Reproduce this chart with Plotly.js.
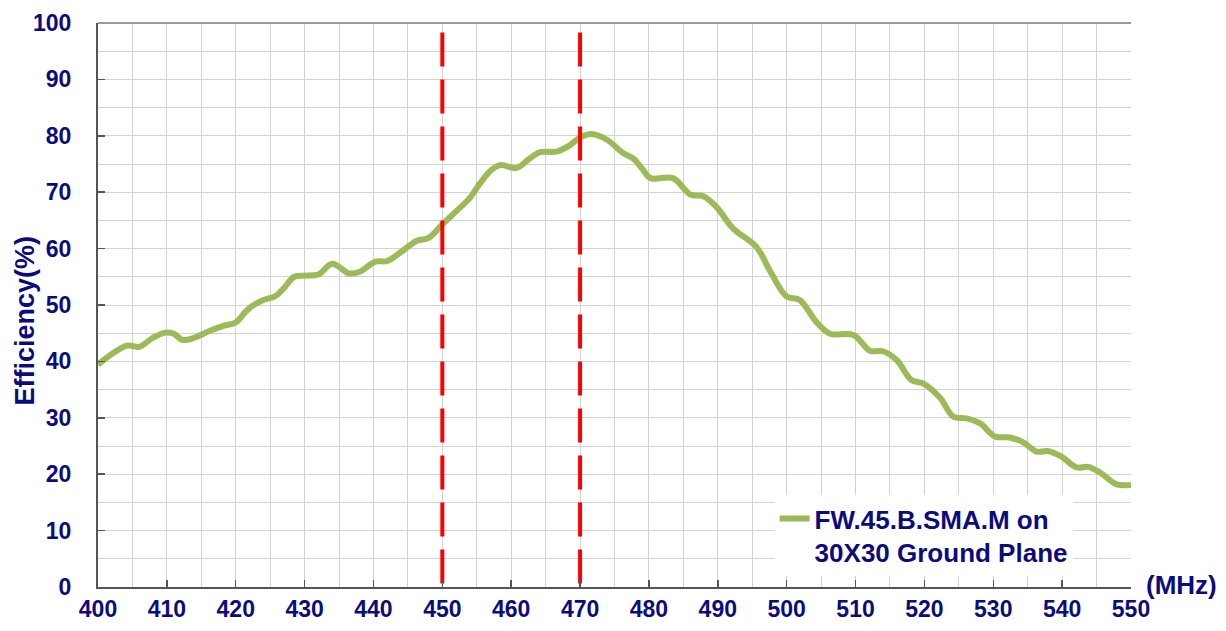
<!DOCTYPE html>
<html>
<head>
<meta charset="utf-8">
<script src="https://cdn.plot.ly/plotly-3.0.1.min.js"></script>
<style>html,body{margin:0;padding:0;background:#fff;}#chart{width:1226px;height:631px;}</style>
</head>
<body>
<div id="chart"></div>
<script>
// Frequency (MHz) and efficiency (%)
const freq = [400, 402, 404.2, 406, 408, 409.8, 411, 412.3, 414, 416, 418.2, 420, 421.5, 422.5, 424, 425.8, 427, 428.5, 430, 432, 434, 436.5, 438, 440.3, 442, 444, 446.3, 448, 450, 452, 454, 455.5, 457, 458.4, 460.8, 462.5, 464.2, 466.6, 468.5, 470, 471.7, 473.9, 476.3, 477.7, 479, 480.2, 483.5, 486, 487.9, 489.8, 492.2, 495.6, 497.6, 500, 501.9, 504.3, 506.3, 509.7, 512.1, 514, 516, 518.1, 519.8, 522.3, 524.2, 526.1, 528.1, 530.2, 532.4, 534.3, 536.3, 537.9, 539.9, 542.1, 543.8, 545.5, 547.9, 550];
const efficiency = [39.4, 41.3, 42.8, 42.6, 44.2, 45.1, 44.9, 43.8, 44.2, 45.3, 46.3, 46.9, 48.9, 49.9, 50.9, 51.6, 53.0, 55.0, 55.2, 55.4, 57.3, 55.6, 55.9, 57.7, 57.8, 59.4, 61.4, 61.9, 64.3, 66.6, 69.0, 71.6, 73.8, 74.8, 74.3, 75.8, 77.1, 77.2, 78.3, 79.7, 80.3, 79.3, 76.9, 76.0, 74.2, 72.5, 72.5, 69.6, 69.3, 67.4, 63.6, 60.3, 56.0, 51.5, 50.9, 47.0, 44.9, 44.7, 41.9, 41.8, 40.2, 36.7, 36.1, 33.5, 30.2, 29.9, 29.0, 26.7, 26.5, 25.7, 24.0, 24.1, 23.1, 21.2, 21.3, 20.3, 18.2, 18.1];
const seriesName = 'FW.45.B.SMA.M on<br>30X30 Ground Plane';
const markerFreqs = [450, 470];
const markerSpan = [98.3, 0];
const xTitle = '(MHz)';
const yTitle = 'Efficiency(%)';

const navy = '#0b0b80';
const fontFam = '"Liberation Sans", Arial, sans-serif';

const traces = [{
  x: freq, y: efficiency, type: 'scatter', mode: 'lines', name: seriesName,
  line: {color: '#9bbb59', width: 6, shape: 'spline', smoothing: 1},
  showlegend: true
}];
markerFreqs.forEach(f => traces.push({
  x: [f, f], y: markerSpan, type: 'scatter', mode: 'lines', showlegend: false,
  line: {color: '#ff0000', width: 4, dash: '34px,13px'}, hoverinfo: 'skip'
}));

const layout = {
  width: 1226, height: 631,
  margin: {l: 98, r: 95, t: 23, b: 44},
  paper_bgcolor: '#fff', plot_bgcolor: '#fff',
  font: {family: fontFam, color: navy, size: 23, weight: 'bold'},
  showlegend: true,
  legend: {
    x: 0.655, y: 0.163, xanchor: 'left', yanchor: 'top',
    bgcolor: '#ffffff', borderwidth: 0, valign: 'top',
    font: {family: fontFam, size: 26, color: navy, weight: 'bold'},
    itemwidth: 30, tracegroupgap: 0
  },
  xaxis: {
    range: [400, 550], dtick: 10, tick0: 400,
    showgrid: true, gridcolor: '#d3d3d3', gridwidth: 1,
    minor: {dtick: 5, showgrid: true, gridcolor: '#d3d3d3', gridwidth: 1},
    ticks: 'inside', ticklen: 7, tickwidth: 1.5, tickcolor: '#555',
    showline: true, linecolor: '#555', linewidth: 2,
    zeroline: false, fixedrange: true,
    tickfont: {family: fontFam, size: 23, color: navy, weight: 'bold'}
  },
  yaxis: {
    range: [0, 100], dtick: 10, tick0: 0,
    showgrid: true, gridcolor: '#d3d3d3', gridwidth: 1,
    minor: {dtick: 5, showgrid: true, gridcolor: '#d3d3d3', gridwidth: 1},
    ticks: 'inside', ticklen: 7, tickwidth: 1.5, tickcolor: '#555',
    showline: true, linecolor: '#555', linewidth: 2,
    zeroline: false, fixedrange: true,
    ticklabelstandoff: 20,
    tickfont: {family: fontFam, size: 23, color: navy, weight: 'bold'}
  },
  shapes: [{
    type: 'line', xref: 'paper', yref: 'paper', x0: 0, x1: 1, y0: 1, y1: 1,
    line: {color: '#999', width: 2}
  }],
  annotations: [{
    text: xTitle, xref: 'paper', yref: 'paper', x: 1.0126, y: 0.004,
    xanchor: 'left', yanchor: 'middle', showarrow: false,
    font: {family: fontFam, size: 26, color: navy, weight: 'bold'}
  }, {
    text: yTitle, xref: 'paper', yref: 'paper', x: -0.0716, y: 0.4725,
    xanchor: 'center', yanchor: 'middle', textangle: -90, showarrow: false,
    font: {family: fontFam, size: 27, color: navy, weight: 'bold'}
  }]
};

Plotly.newPlot('chart', traces, layout, {displayModeBar: false, staticPlot: true});
</script>
</body>
</html>
